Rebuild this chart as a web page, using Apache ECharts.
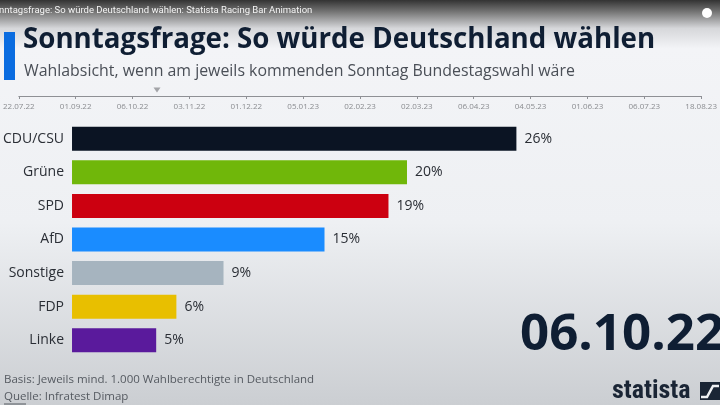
<!DOCTYPE html>
<html><head><meta charset="utf-8">
<script src="https://cdn.jsdelivr.net/npm/echarts@6/dist/echarts.min.js"></script>
<style>html,body{margin:0;padding:0;background:#eef0f3}#c{width:720px;height:405px}</style>
</head><body><div id="c"></div>
<script>
const parties = ['CDU/CSU','Grüne','SPD','AfD','Sonstige','FDP','Linke'];
const shares = [26.4, 19.9, 18.8, 15.0, 9.0, 6.2, 5.0];
const colors = ['#0b1423','#70b70a','#cc0010','#1a8cff','#a6b4bf','#e8bf00','#5a1a9c'];
const timelineDates = ['22.07.22','01.09.22','06.10.22','03.11.22','01.12.22','05.01.23','02.02.23','02.03.23','06.04.23','04.05.23','01.06.23','06.07.23','18.08.23'];
const playhead = [2.43];
const currentDate = '06.10.22';

const chart = echarts.init(document.getElementById('c'));
const F = '"Open Sans", sans-serif';
chart.setOption({
  animation: false,
  backgroundColor: '#eef0f3',
  graphic: [
    { type: 'rect', z: -10, shape: { x: 0, y: 0, width: 720, height: 405 },
      style: { fill: new echarts.graphic.LinearGradient(0,0,0,1,[
        {offset:0,color:'#333333'},{offset:0.03,color:'#777777'},{offset:0.07,color:'#d6d7da'},
        {offset:0.12,color:'#f3f4f7'},{offset:0.55,color:'#eef0f3'},{offset:1,color:'#cbced2'}]) } },
    { type: 'text', left: -12, top: 6, style: { text: 'Sonntagsfrage: So würde Deutschland wählen: Statista Racing Bar Animation', fill: '#f4f4f4', font: '9.5px Roboto, sans-serif' } },
    { type: 'circle', shape: { cx: 707, cy: 13, r: 5 }, style: { fill: '#ffffff' } },
    { type: 'rect', shape: { x: 4, y: 32, width: 11, height: 48 }, style: { fill: '#0a6ce0' } },
    { type: 'text', left: 23, top: 26, style: { text: 'Sonntagsfrage: So würde Deutschland wählen', fill: '#0f1e33', font: 'bold 27.7px "Open Sans", sans-serif' } },
    { type: 'text', left: 24, top: 63, style: { text: 'Wahlabsicht, wenn am jeweils kommenden Sonntag Bundestagswahl wäre', fill: '#4a4f57', font: '15.9px "Open Sans", sans-serif' } },
    { type: 'text', left: 520, top: 310, style: { text: currentDate, fill: '#0f1e33', font: 'bold 51px "Open Sans", sans-serif' } },
    { type: 'text', left: 4, top: 374, style: { text: 'Basis: Jeweils mind. 1.000 Wahlberechtigte in Deutschland', fill: '#555a61', font: '11.5px "Open Sans", sans-serif' } },
    { type: 'text', left: 4, top: 391, style: { text: 'Quelle: Infratest Dimap', fill: '#555a61', font: '11.5px "Open Sans", sans-serif' } },
    { type: 'line', shape: { x1: 4, y1: 404, x2: 26, y2: 404 }, style: { stroke: '#555a61', lineWidth: 1 } },
    { type: 'text', left: 612, top: 378, style: { text: 'statista', fill: '#1a2535', font: 'bold 26px "Liberation Sans Narrow", "Roboto Condensed", sans-serif' } },
    { type: 'rect', shape: { x: 700, y: 382, width: 20, height: 18 }, style: { fill: '#1a2535' } },
    { type: 'polyline', shape: { points: [[701,397],[707,397],[713,386],[719,386]] }, style: { stroke: '#eef0f3', lineWidth: 2.5, fill: null } }
  ],
  grid: [
    { left: 70, right: 143, top: 122, height: 235, containLabel: false },
    { left: 14, right: 6, top: 86, height: 10 }
  ],
  xAxis: [
    { gridIndex: 0, type: 'value', min: 0, max: 30, show: false },
    { gridIndex: 1, type: 'category', data: timelineDates, boundaryGap: false,
      axisLine: { lineStyle: { color: '#8e9095', width: 1 } },
      axisTick: { show: true, length: 3, lineStyle: { color: '#8e9095' } },
      axisLabel: { fontSize: 8, color: '#8a8c90', margin: 7, fontFamily: F } },
    { gridIndex: 1, type: 'value', min: 0, max: timelineDates.length - 1, show: false }
  ],
  yAxis: [
    { gridIndex: 0, type: 'category', data: parties, inverse: true,
      axisLine: { show: false }, axisTick: { show: false },
      axisLabel: { fontSize: 14, color: '#2a2e35', margin: 8, fontFamily: F } },
    { gridIndex: 1, type: 'value', min: 0, max: 1, show: false }
  ],
  series: [
    { type: 'bar', xAxisIndex: 0, yAxisIndex: 0, barWidth: 24,
      data: shares.map((v, i) => ({ value: v, itemStyle: { color: colors[i] } })),
      label: { show: true, position: 'right', distance: 8, fontSize: 14, color: '#2a2e35', fontFamily: F,
        formatter: p => Math.round(p.value) + '%' } },
    { type: 'scatter', xAxisIndex: 2, yAxisIndex: 1, symbol: 'triangle', symbolRotate: 180, symbolSize: [7, 5],
      itemStyle: { color: '#8e9095' }, data: playhead.map(v => [v, 0.6]) }
  ]
});
</script></body></html>
